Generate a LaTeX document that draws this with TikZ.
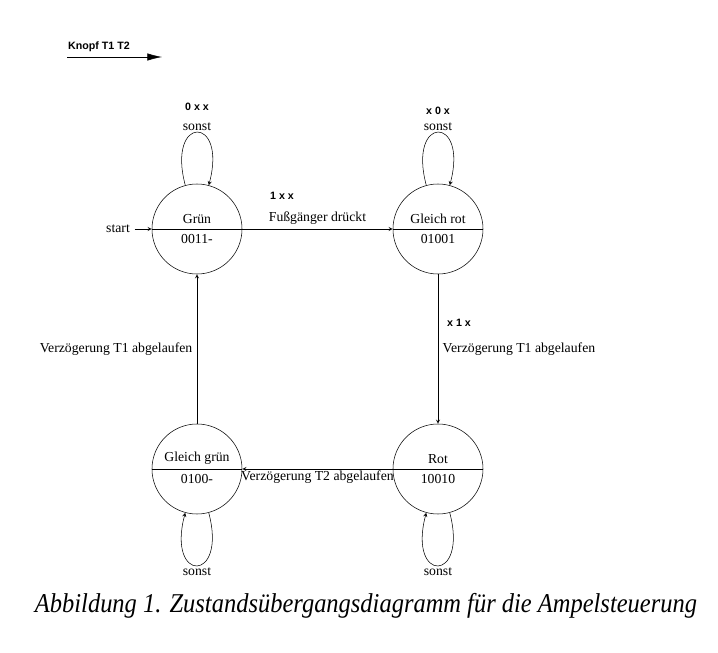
\documentclass[tikz,border=0pt]{standalone}
\usepackage{fontspec}
\setmainfont{Liberation Serif}
\setsansfont{Liberation Sans}
\usetikzlibrary{shapes.multipart}
\usetikzlibrary{arrows.meta}

\begin{document}
\begin{tikzpicture}[x=0.75pt,y=0.75pt,yscale=-1,xscale=1,
  font=\fontsize{10.3}{12}\selectfont,
  zustand/.style={circle split,draw,minimum size=67.5pt,inner sep=3.5pt},
  bits/.style={font=\sffamily\bfseries\fontsize{8}{9}\selectfont,inner sep=0.75pt},
  pfeil/.style={->,>=stealth}]
\useasboundingbox (0,0) rectangle (718,653);

%Shape: Legend
\node (knopf) at (99,47) [bits] {Knopf T1 T2};
\coordinate (knopfa) at (67,57);
\coordinate (knopfb) at (162,57);
\draw [-{Latex[length=11pt,width=5.5pt]}] (knopfa) -- (knopfb);

%Shape: States
\node (gruen) at (197,229) [zustand] {Grün \nodepart{lower} 0011-};
\node (gleichrot) at (438,229) [zustand] {Gleich rot \nodepart{lower} 01001};
\node (rot) at (438,469) [zustand] {Rot \nodepart{lower} 10010};
\node (gleichgruen) at (197,469) [zustand] {Gleich grün \nodepart{lower} 0100-};

% Text Node
\node (start) at (118,229) {start};
\draw [pfeil] (start) -- (gruen);

%Shape: Transitions
\draw [pfeil] (gruen) -- (gleichrot) node [midway,above] {Fußgänger drückt};
\draw [pfeil] (gleichrot) -- (rot) node [midway,right] {Verzögerung T1 abgelaufen};
\draw [pfeil] (rot) -- (gleichgruen) node [midway,below,inner sep=1pt] {Verzögerung T2 abgelaufen};
\draw [pfeil] (gleichgruen) -- (gruen) node [midway,left] {Verzögerung T1 abgelaufen};

%Shape: Loops (y axis turned back up, so that the loop angles point outwards)
\begin{scope}[yscale=-1]
\draw [pfeil] (gruen) to [loop above] node [above,inner sep=1pt] {sonst} (gruen);
\draw [pfeil] (gleichrot) to [loop above] node [above,inner sep=1pt] {sonst} (gleichrot);
\draw [pfeil] (rot) to [loop below] node [below,inner sep=1pt] {sonst} (rot);
\draw [pfeil] (gleichgruen) to [loop below] node [below,inner sep=1pt] {sonst} (gleichgruen);
\end{scope}

% Text Node
\node (bitsa) at (197,107) [bits] {0 x x};
\node (bitsb) at (282,196) [bits] {1 x x};
\node (bitsc) at (438,111) [bits] {x 0 x};
\node (bitsd) at (459,323) [bits] {x 1 x};

% Text Node
\node (titel) at (366,606) {\scalebox{0.9}[1]{\itshape\fontsize{20.4}{24}\selectfont Abbildung 1. Zustandsübergangsdiagramm für die Ampelsteuerung}};

\end{tikzpicture}
\end{document}
